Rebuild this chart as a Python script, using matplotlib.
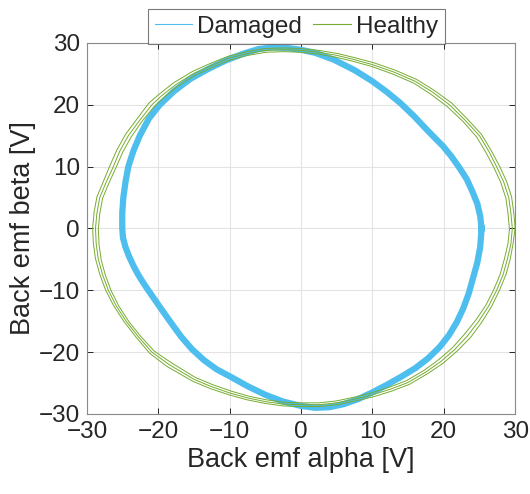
import matplotlib
matplotlib.use("Agg")
import matplotlib.pyplot as plt
from matplotlib.lines import Line2D

plt.rcParams["font.family"] = ["Liberation Sans", "DejaVu Sans"]

# Damaged machine: back emf trajectory (alpha, beta)
damaged_alpha = [25.3, 25.1, 24.7, 24.0, 23.2, 22.2, 21.1, 19.9, 18.7, 17.6, 15.8, 13.9,
                 12.0, 10.0, 7.5, 4.6, 2.0, 0.0, -2.0, -4.0,
                 -6.0, -8.0, -10.5, -13.0, -15.5, -17.8, -19.8, -21.3, -22.6, -23.5,
                 -24.2, -24.6, -24.9, -25.05,
                 -25.05, -24.95, -24.6, -24.1, -23.5, -22.8, -22.1, -21.4, -20.5, -19.6,
                 -18.5, -16.8, -15.3, -13.6, -11.8, -10.0, -7.5, -5.0, -2.5, 0.0,
                 2.0, 4.0, 6.0, 8.0, 10.0, 12.0, 14.0, 16.0, 17.8, 19.4, 20.7, 21.8,
                 22.7, 23.5, 24.1, 24.7, 25.1, 25.3]
damaged_beta = [0.0, 2.0, 4.0, 6.0, 8.0, 9.8, 11.6, 13.3, 14.7, 16.0, 18.2, 20.3,
                22.1, 23.8, 25.6, 27.3, 28.4, 28.9, 29.2, 29.3,
                29.0, 28.3, 27.2, 25.8, 24.2, 22.2, 20.0, 17.8, 15.0, 12.5,
                10.0, 7.5, 5.0, 2.5,
                0.0, -1.5, -3.0, -4.5, -6.0, -7.5, -8.8, -10.0, -11.5, -13.0,
                -14.8, -17.5, -19.5, -21.3, -22.8, -23.9, -25.5, -26.9, -28.0, -28.7,
                -29.0, -28.9, -28.4, -27.6, -26.5, -25.3, -24.0, -22.6, -21.0, -19.2, -17.3, -15.2,
                -13.0, -10.5, -8.0, -5.5, -3.0, 0.0]

# Healthy machine: three overlapping electrical periods
healthy_alpha_1 = [29.6, 29.4, 29.1, 28.4, 27.4, 26.3, 25.0, 23.0, 20.8, 18.5, 16.0, 13.0,
                   10.0, 7.5, 5.0, 2.5, 0.0, -2.5, -5.0, -7.5, -10.0, -12.5, -15.0, -17.5,
                   -19.5, -20.9, -22.6, -24.2, -25.4, -26.3, -27.3, -28.2, -28.6, -28.8,
                   -28.7, -28.4, -27.8, -27.0, -25.9, -24.5, -22.8, -20.9, -18.5, -15.0,
                   -12.5, -10.0, -7.5, -5.0, -2.5, 0.0, 2.5, 5.0, 7.5, 10.0, 12.5, 15.0,
                   17.5, 19.6, 21.5, 23.3, 24.9, 26.3, 27.4, 28.3, 28.9, 29.4, 29.6]
healthy_beta_1 = [0.0, 2.5, 5.0, 7.5, 10.0, 12.5, 15.0, 17.5, 20.0, 22.0, 23.8, 25.3,
                  26.5, 27.3, 28.0, 28.5, 28.8, 28.9, 28.8, 28.3, 27.6, 26.4, 25.1, 23.3,
                  21.5, 20.0, 17.5, 15.0, 12.5, 10.0, 7.5, 5.0, 2.5, 0.0,
                  -2.5, -5.0, -7.5, -10.0, -12.5, -15.0, -17.5, -20.0, -22.0, -24.4,
                  -25.6, -26.6, -27.4, -28.0, -28.4, -28.5, -28.5, -28.2, -27.6, -26.9, -26.0, -24.9,
                  -23.2, -21.5, -19.6, -17.4, -15.0, -12.5, -10.0, -7.5, -5.0, -2.5, 0.0]

healthy_alpha_2 = [30.0, 29.8, 29.5, 28.8, 27.8, 26.6, 25.3, 23.3, 21.1, 18.7, 16.2, 13.2,
                   10.2, 7.6, 5.1, 2.5, 0.0, -2.5, -5.1, -7.6, -10.1, -12.7, -15.2, -17.8,
                   -19.8, -21.3, -23.0, -24.6, -25.8, -26.8, -27.7, -28.6, -29.0, -29.2,
                   -29.1, -28.8, -28.2, -27.4, -26.3, -24.9, -23.1, -21.2, -18.8, -15.2,
                   -12.7, -10.1, -7.6, -5.0, -2.5, 0.0, 2.5, 5.1, 7.6, 10.2, 12.7, 15.2,
                   17.7, 19.9, 21.8, 23.7, 25.3, 26.7, 27.8, 28.7, 29.3, 29.7, 30.0]
healthy_beta_2 = [0.1, 2.6, 5.1, 7.6, 10.1, 12.7, 15.2, 17.7, 20.3, 22.3, 24.1, 25.6,
                  26.8, 27.6, 28.3, 28.8, 29.1, 29.2, 29.1, 28.6, 27.9, 26.7, 25.4, 23.6,
                  21.8, 20.3, 17.7, 15.2, 12.7, 10.1, 7.6, 5.1, 2.6, 0.1,
                  -2.4, -4.9, -7.4, -9.9, -12.4, -14.9, -17.6, -20.2, -22.3, -24.7,
                  -25.9, -26.9, -27.7, -28.3, -28.7, -28.8, -28.8, -28.5, -27.9, -27.2, -26.3, -25.2,
                  -23.5, -21.8, -19.9, -17.7, -15.2, -12.6, -10.0, -7.5, -5.0, -2.5, 0.1]

healthy_alpha_3 = [29.2, 29.0, 28.7, 28.0, 27.0, 25.9, 24.6, 22.7, 20.5, 18.2, 15.8, 12.8,
                   9.9, 7.4, 4.9, 2.4, -0.1, -2.5, -4.9, -7.4, -9.8, -12.3, -14.8, -17.3,
                   -19.2, -20.6, -22.3, -23.8, -25.0, -25.9, -26.9, -27.8, -28.2, -28.4,
                   -28.3, -28.0, -27.4, -26.6, -25.5, -24.1, -22.5, -20.6, -18.2, -14.8,
                   -12.3, -9.8, -7.4, -4.9, -2.5, 0.0, 2.5, 4.9, 7.4, 9.8, 12.3, 14.8,
                   17.3, 19.3, 21.2, 22.9, 24.5, 25.9, 27.0, 27.9, 28.5, 29.0, 29.2]
healthy_beta_3 = [-0.1, 2.4, 4.9, 7.4, 9.9, 12.3, 14.8, 17.3, 19.7, 21.7, 23.5, 25.0,
                  26.2, 27.0, 27.7, 28.2, 28.5, 28.6, 28.5, 28.0, 27.3, 26.1, 24.8, 23.0,
                  21.2, 19.7, 17.3, 14.8, 12.3, 9.9, 7.4, 4.9, 2.4, -0.1,
                  -2.6, -5.1, -7.6, -10.1, -12.6, -15.1, -17.4, -19.8, -21.7, -24.1,
                  -25.3, -26.3, -27.1, -27.7, -28.1, -28.2, -28.2, -27.9, -27.3, -26.6, -25.7, -24.6,
                  -22.9, -21.2, -19.3, -17.1, -14.8, -12.4, -9.9, -7.4, -4.9, -2.4, -0.1]

ticks = [-30, -20, -10, 0, 10, 20, 30]

BLUE = "#4dbeee"
GREEN = "#77ac30"
TEXT = "#262626"

fig = plt.figure(figsize=(5.30, 4.94), dpi=100)
ax = fig.add_axes([0.164, 0.162, 0.808, 0.751])

ax.plot(damaged_alpha, damaged_beta, color=BLUE, linewidth=4.5,
        solid_joinstyle="round", zorder=2)
for hx, hy in [(healthy_alpha_1, healthy_beta_1),
               (healthy_alpha_2, healthy_beta_2),
               (healthy_alpha_3, healthy_beta_3)]:
    ax.plot(hx, hy, color=GREEN, linewidth=0.7, zorder=3)

ax.set_xlim(-30, 30)
ax.set_ylim(-30, 30)
ax.set_xticks(ticks)
ax.set_yticks(ticks)
ax.grid(True, color="#e3e3e3", linewidth=0.8)
ax.set_axisbelow(True)
ax.tick_params(direction="in", length=4, top=True, right=True, labelsize=17.5,
               colors=TEXT, width=0.7, pad=5)
for sp in ax.spines.values():
    sp.set_color("#8a8a8a")
    sp.set_linewidth(0.8)

ax.set_xlabel("Back emf alpha [V]", fontsize=19.5, color=TEXT, labelpad=3)
ax.set_ylabel("Back emf beta [V]", fontsize=19.5, color=TEXT, labelpad=2)

handles = [Line2D([0], [0], color=BLUE, linewidth=0.8),
           Line2D([0], [0], color=GREEN, linewidth=0.8)]
leg = fig.legend(handles, ["Damaged", "Healthy"], loc="center",
                 bbox_to_anchor=(0.559, 0.946), ncol=2, fontsize=17.5,
                 frameon=True, fancybox=False, handlelength=1.55,
                 handletextpad=0.2, columnspacing=0.45, borderpad=0.28,
                 borderaxespad=0.0)
leg.get_frame().set_edgecolor("#5a5a5a")
leg.get_frame().set_linewidth(0.8)
for t in leg.get_texts():
    t.set_color(TEXT)

fig.savefig("out.png", dpi=100)
